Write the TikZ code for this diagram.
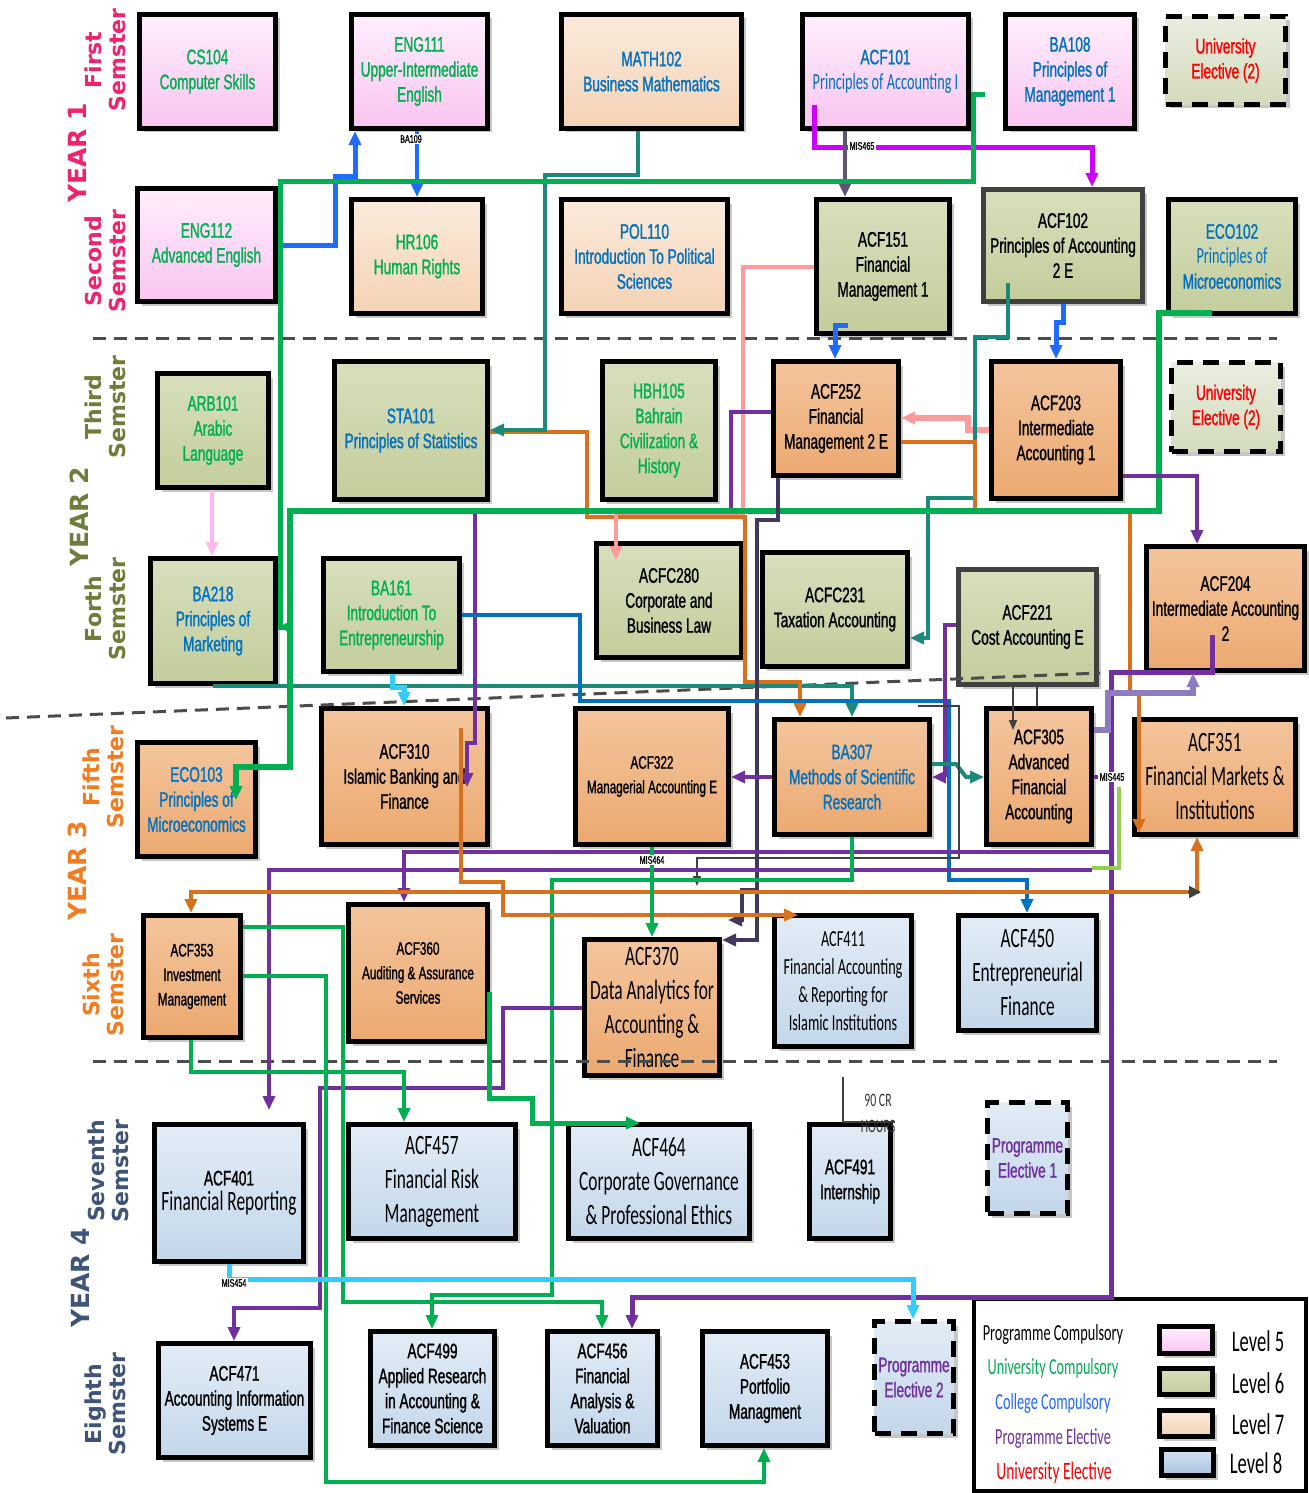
\documentclass[tikz,border=0pt]{standalone}
\usepackage{fontspec}
\usetikzlibrary{arrows.meta,shadows}
\newfontfamily\nf[FakeStretch=0.65,FakeBold=1.2]{Liberation Sans}
\newfontfamily\lf[FakeStretch=0.62]{Carlito}
\newfontfamily\yf{DejaVu Sans}
\newcommand\cfnorm{\nf\fontsize{10.5}{12.5}\selectfont}
\newcommand\cfsmall{\nf\fontsize{9}{12.25}\selectfont}
\newcommand\cflight{\lf\fontsize{14}{17}\selectfont}
\newcommand\cflmid{\lf\fontsize{11.5}{14}\selectfont}
\newcommand\cfsub{\lf\fontsize{11.5}{12.5}\selectfont}
\newcommand\cflbl{\nf\fontsize{5.5}{6}\selectfont}
\newcommand\cfyear{\yf\bfseries\fontsize{12.5}{14}\selectfont}
\newcommand\cfsem{\yf\bfseries\fontsize{11}{12}\selectfont}
\newcommand\cfleg{\lf\fontsize{11.5}{13}\selectfont}
\newcommand\cflegb{\lf\fontsize{12.5}{14}\selectfont}
\newcommand\cflev{\lf\fontsize{15}{17}\selectfont}
\newcommand\cfcr{\lf\fontsize{9.5}{11}\selectfont}
\definecolor{tgreen}{HTML}{00B050}
\definecolor{tblue}{HTML}{0070C0}
\definecolor{tred}{HTML}{FF0000}
\definecolor{tpurple}{HTML}{7030A0}
\definecolor{ypink}{HTML}{F2226E}
\definecolor{yolive}{HTML}{6F7D3A}
\definecolor{yorange}{HTML}{F47B20}
\definecolor{yslate}{HTML}{3E5478}
\definecolor{pinkT}{HTML}{FFEEFD}
\definecolor{pinkB}{HTML}{F9C5F0}
\definecolor{peachT}{HTML}{FBEBDD}
\definecolor{peachB}{HTML}{F4D2B4}
\definecolor{orT}{HTML}{F3C59D}
\definecolor{orB}{HTML}{ECA970}
\definecolor{grT}{HTML}{D7DFBD}
\definecolor{grB}{HTML}{C4CD9B}
\definecolor{blT}{HTML}{E2ECF6}
\definecolor{blB}{HTML}{C3D7EA}
\definecolor{ueT}{HTML}{E9EEE0}
\definecolor{ueB}{HTML}{D3DBBC}
\definecolor{lvT}{HTML}{D5E3F1}
\definecolor{lvB}{HTML}{A8C3E0}
\definecolor{cbright}{HTML}{1F6BFF}
\definecolor{cteal}{HTML}{1B8A7A}
\definecolor{cgreen}{HTML}{00B050}
\definecolor{cpurple}{HTML}{7030A0}
\definecolor{cmagenta}{HTML}{CC00FF}
\definecolor{cpink}{HTML}{FF9B9B}
\definecolor{clpink}{HTML}{FFB8EE}
\definecolor{corange}{HTML}{D9701C}
\definecolor{cnavy}{HTML}{41375F}
\definecolor{cblue}{HTML}{0070C0}
\definecolor{ccyan}{HTML}{33CCFF}
\definecolor{clav}{HTML}{8C7BBE}
\definecolor{clgreen}{HTML}{92D050}
\definecolor{cgray}{HTML}{404040}
\tikzset{
  bx/.style={draw=black, line width=2.5pt, align=center, inner sep=0pt, text=black, font=\cfnorm,
     drop shadow={shadow xshift=2pt, shadow yshift=-2pt, opacity=0.22, fill=black}},
  dbx/.style={bx, dash pattern=on 8pt off 5pt},
  pinkf/.style={top color=pinkT, bottom color=pinkB},
  peachf/.style={top color=peachT, bottom color=peachB},
  orf/.style={top color=orT, bottom color=orB},
  grf/.style={top color=grT, bottom color=grB},
  blf/.style={top color=blT, bottom color=blB},
  uef/.style={top color=ueT, bottom color=ueB},
  lvf/.style={top color=lvT, bottom color=lvB},
  legbox/.style={draw=black, line width=2pt, fill=white, inner sep=0pt},
  ln/.style={line width=2pt},
  tip/.style={-{Triangle[length=7pt,width=6pt]}},
  lbl/.style={fill=white, inner sep=0.6pt, font=\cflbl, text=black},
  sep/.style={draw=black!70, line width=1.5pt, dash pattern=on 6.5pt off 4pt},
  yr/.style={rotate=90, font=\cfyear},
  sem/.style={rotate=90, font=\cfsem, align=center},
}
\newcommand\coursebox[7]{%
  \pgfmathsetmacro\crsw{(#5-#3)*0.5-2.5}%
  \pgfmathsetmacro\crsh{(#6-#4)*0.5-2.5}%
  \node[#2, minimum width=\crsw pt, minimum height=\crsh pt] (#1) at ({(#3+#5)/2},{(#4+#6)/2}) {#7};}
\begin{document}
\begin{tikzpicture}[x=0.5pt,y=-0.5pt]
\useasboundingbox (0,0) rectangle (1308,1493);
\fill[white] (0,0) rectangle (1308,1493);

% ---------- side labels ----------
\node[yr, text=ypink] (y1) at (77,153) {YEAR 1};
\node[sem, text=ypink] (s1) at (105,60) {First\\Semster};
\node[sem, text=ypink] (s2) at (105,261) {Second\\Semster};
\node[yr, text=yolive] (y2) at (79,517) {YEAR 2};
\node[sem, text=yolive] (s3) at (105,407) {Third\\Semster};
\node[sem, text=yolive] (s4) at (105,609) {Forth\\Semster};
\node[yr, text=yorange] (y3) at (77,871) {YEAR 3};
\node[sem, text=yorange] (s5) at (103,777) {Fifth\\Semster};
\node[sem, text=yorange] (s6) at (103,985) {Sixth\\Semster};
\node[yr, text=yslate] (y4) at (80,1278) {YEAR 4};
\node[sem, text=yslate] (s7) at (108,1171) {Seventh\\Semster};
\node[sem, text=yslate] (s8) at (105,1404) {Eighth\\Semster};

% ---------- legend ----------
\coursebox{legend}{legbox}{971}{1296}{1308}{1493}{}

% ---------- course boxes ----------
\coursebox{cs104}{bx,pinkf,text=tgreen}{137}{12}{278}{131}{CS104\\Computer Skills}
\coursebox{eng111}{bx,pinkf,text=tgreen}{349}{12}{490}{131}{ENG111\\Upper-Intermediate\\English}
\coursebox{math102}{bx,peachf,text=tblue}{559}{12}{744}{131}{MATH102\\Business Mathematics}
\coursebox{acf101}{bx,pinkf,text=tblue}{800}{12}{971}{131}{ACF101\\\cfsub Principles of Accounting I}
\coursebox{ba108}{bx,pinkf,text=tblue}{1003}{12}{1137}{131}{BA108\\Principles of\\Management 1}
\coursebox{ue1}{dbx,uef,text=tred}{1163}{14}{1288}{107}{University\\Elective (2)}
\coursebox{eng112}{bx,pinkf,text=tgreen}{135}{186}{278}{304}{ENG112\\Advanced English}
\coursebox{hr106}{bx,peachf,text=tgreen}{349}{197}{485}{316}{HR106\\Human Rights}
\coursebox{pol110}{bx,peachf,text=tblue}{559}{197}{730}{316}{POL110\\Introduction To Political\\Sciences}
\coursebox{acf151}{bx,grf}{814}{197}{952}{336}{ACF151\\Financial\\Management 1}
\coursebox{acf102}{bx,grf,draw=cgray}{981}{187}{1145}{304}{ACF102\\Principles of Accounting\\2 E}
\coursebox{eco102}{bx,grf,text=tblue}{1166}{197}{1298}{316}{ECO102\\\cfsub Principles of\\Microeconomics}
\coursebox{arb101}{bx,grf,text=tgreen}{155}{371}{271}{490}{ARB101\\Arabic\\Language}
\coursebox{sta101}{bx,grf,text=tblue}{332}{359}{490}{502}{STA101\\Principles of Statistics}
\coursebox{hbh105}{bx,grf,text=tgreen}{600}{359}{718}{502}{HBH105\\Bahrain\\Civilization \&\\History}
\coursebox{acf252}{bx,orf}{771}{359}{901}{478}{ACF252\\Financial\\Management 2 E}
\coursebox{acf203}{bx,orf}{989}{359}{1123}{501}{ACF203\\Intermediate\\Accounting 1}
\coursebox{ue2}{dbx,uef,text=tred}{1169}{360}{1283}{454}{University\\Elective (2)}
\coursebox{ba218}{bx,grf,text=tblue}{148}{556}{278}{686}{BA218\\Principles of\\Marketing}
\coursebox{ba161}{bx,grf,text=tgreen}{321}{556}{462}{674}{BA161\\Introduction To\\Entrepreneurship}
\coursebox{acfc280}{bx,grf}{594}{541}{744}{660}{ACFC280\\Corporate and\\Business Law}
\coursebox{acfc231}{bx,grf}{760}{550}{910}{669}{ACFC231\\Taxation Accounting}
\coursebox{acf221}{bx,grf,draw=cgray}{956}{567}{1099}{687}{ACF221\\Cost Accounting E}
\coursebox{acf204}{bx,orf}{1144}{544}{1307}{673}{ACF204\\Intermediate Accounting\\2}
\coursebox{eco103}{bx,orf,text=tblue}{135}{740}{258}{859}{ECO103\\Principles of\\Microeconomics}
\coursebox{acf310}{bx,orf}{319}{706}{490}{847}{ACF310\\Islamic Banking and\\Finance}
\coursebox{acf322}{bx,orf,font=\cfsmall}{573}{706}{731}{847}{ACF322\\Managerial Accounting E}
\coursebox{ba307}{bx,orf,text=tblue}{772}{717}{932}{837}{BA307\\Methods of Scientific\\Research}
\coursebox{acf305}{bx,orf}{984}{706}{1094}{847}{ACF305\\Advanced\\Financial\\Accounting}
\coursebox{acf351}{bx,orf,font=\cflight}{1132}{717}{1298}{837}{ACF351\\Financial Markets \&\\Institutions}
\coursebox{acf353}{bx,orf,font=\cfsmall}{141}{913}{243}{1040}{ACF353\\Investment\\Management}
\coursebox{acf360}{bx,orf,font=\cfsmall}{346}{902}{490}{1044}{ACF360\\Auditing \& Assurance\\Services}
\coursebox{acf370}{bx,orf,font=\cflight}{582}{937}{722}{1078}{ACF370\\Data Analytics for\\Accounting \&\\Finance}
\coursebox{acf411}{bx,blf,font=\cflmid}{772}{913}{914}{1049}{ACF411\\Financial Accounting\\\& Reporting for\\Islamic Institutions}
\coursebox{acf450}{bx,blf,font=\cflight}{956}{913}{1099}{1033}{ACF450\\Entrepreneurial\\Finance}
\coursebox{acf401}{bx,blf}{152}{1122}{306}{1264}{ACF401\\\cflight Financial Reporting}
\coursebox{acf457}{bx,blf,font=\cflight}{346}{1122}{518}{1241}{ACF457\\Financial Risk\\Management}
\coursebox{acf464}{bx,blf,font=\cflight}{566}{1122}{752}{1241}{ACF464\\Corporate Governance\\\& Professional Ethics}
\coursebox{acf491}{bx,blf}{807}{1122}{893}{1241}{ACF491\\Internship}
\coursebox{pe1}{dbx,blf,text=tpurple}{985}{1100}{1070}{1216}{Programme\\Elective 1}
\coursebox{acf471}{bx,blf}{156}{1341}{313}{1460}{ACF471\\Accounting Information\\Systems E}
\coursebox{acf499}{bx,blf}{368}{1329}{497}{1448}{ACF499\\Applied Research\\in Accounting \&\\Finance Science}
\coursebox{acf456}{bx,blf}{545}{1329}{660}{1448}{ACF456\\Financial\\Analysis \&\\Valuation}
\coursebox{acf453}{bx,blf}{700}{1329}{830}{1448}{ACF453\\Portfolio\\Managment}
\coursebox{pe2}{dbx,blf,text=tpurple}{872}{1319}{956}{1436}{Programme\\Elective 2}

% ---------- legend content ----------
\node[font=\cfleg, text=black] (lg1) at (1053,1334) {Programme Compulsory};
\node[font=\cfleg, text=tgreen] (lg2) at (1053,1368) {University Compulsory};
\node[font=\cfleg, text=cbright] (lg3) at (1053,1403) {College Compulsory};
\node[font=\cfleg, text=tpurple] (lg4) at (1053,1438) {Programme Elective};
\node[font=\cflegb, text=tred] (lg5) at (1054,1473) {University Elective};
\coursebox{sw5}{bx,pinkf}{1157}{1324}{1215}{1356}{}
\coursebox{sw6}{bx,grf}{1157}{1366}{1215}{1397}{}
\coursebox{sw7}{bx,peachf}{1157}{1408}{1215}{1439}{}
\coursebox{sw8}{bx,lvf}{1159}{1447}{1216}{1478}{}
\node[font=\cflev] (lv5) at (1258,1341) {Level 5};
\node[font=\cflev] (lv6) at (1258,1383) {Level 6};
\node[font=\cflev] (lv7) at (1258,1424) {Level 7};
\node[font=\cflev] (lv8) at (1256,1463) {Level 8};

% ---------- separators ----------
\draw[sep] (93,338) -- (1277,338);
\draw[sep] (6,718) -- (1100,673);
\draw[sep] (93,1061) -- (1277,1061);

% ---------- named free ends ----------
\coordinate (g1) at (985,95);
\coordinate (g2) at (1212,313);
\coordinate (m1) at (814,105);
\coordinate (b1) at (848,325);
\coordinate (t1) at (1008,283);
\coordinate (p1) at (1212,635);
\coordinate (o1) at (461,728);
\coordinate (e1) at (616,560);
\coordinate (e2) at (467,787);
\coordinate (e3) at (1139,833);
\coordinate (e4) at (236,800);
\coordinate (e5) at (798,915);
\coordinate (e6) at (640,1123);
\coordinate (e7) at (269,1110);

% ---------- connectors ----------
\draw[ln,cteal,tip] (ba218.south) -- (852,0 |- ba218.south) -- (852,0 |- ba307.north);
\draw[ln,corange,tip] (sta101.east |- 0,432) -- (587,432) -- (587,517) -- (745,517) -- (745,682) -- (800,682) -- (800,0 |- ba307.north);
\draw[ln,cteal,tip] (638,0 |- math102.south) -- (638,175) -- (545,175) -- (545,430) -- (sta101.east |- 0,430);
\draw[ln,cpink,tip] (acf151.west |- 0,267) -- (743,267) -- (743,513) -- (616,513) -- (e1);
\draw[cpink,line width=3pt,tip] (acf203.west |- 0,430) -- (968,430) -- (968,418) -- (acf252.east |- 0,418);
\draw[cbright,line width=2.5pt,tip] (b1) -- (835,325) -- (835,0 |- acf252.north);
\draw[cbright,line width=2.5pt,tip] (1063,0 |- acf102.south) -- (1063,322) -- (1056,322) -- (1056,0 |- acf203.north);
\draw[ln,cteal,tip] (t1) -- (1008,337) -- (975,337) -- (975,498) -- (928,498) -- (928,638) -- (acfc231.east |- 0,638);
\draw[cmagenta,line width=2.5pt,tip] (m1) -- (814,147) -- (1092,147) -- (1092,0 |- acf102.north);
\draw[ln,cnavy!85,tip] (845,0 |- acf101.south) -- (845,0 |- acf151.north);
\draw[cbright,line width=2.5pt,tip] (eng112.east |- 0,245) -- (335,245) -- (335,176) -- (355,176) -- (355,0 |- eng111.south);
\draw[ln,cbright,tip] (417,0 |- eng111.south) -- (417,0 |- hr106.north);
\draw[cgreen,line width=2.5pt,tip] (g1) -- (973,95) -- (973,181) -- (280,181) -- (280,627) -- (ba218.east |- 0,627);
\draw[ln,cpurple,tip] (acf252.west |- 0,412) -- (731,412) -- (731,510) -- (475,510) -- (475,743) -- (467,743) -- (e2);
\draw[ln,corange,tip] (acf252.east |- 0,442) -- (975,442) -- (975,512) -- (1130,512) -- (1130,693) -- (1139,693) -- (e3);
\draw[cgreen,line width=3pt,tip] (g2) -- (1159,313) -- (1159,511) -- (290,511) -- (290,767) -- (236,767) -- (e4);
\draw[ln,cnavy,tip] (778,0 |- acf252.south) -- (778,520) -- (757,520) -- (757,940) -- (acf370.east |- 0,940);
\draw[ln,cnavy,tip] (757,890) -- (742,890) -- (742,920) -- (728,920);
\draw[ln,cpurple,tip] (acf203.east |- 0,476) -- (1197,476) -- (1197,0 |- acf204.north);
\draw[ln,clpink,tip] (212,0 |- arb101.south) -- (212,0 |- ba218.north);
\draw[ln,cblue,tip] (ba161.east |- 0,615) -- (580,615) -- (580,701) -- (949,701) -- (949,880) -- (1027,880) -- (1027,0 |- acf450.north);
\draw[ccyan,line width=2.5pt,tip] (392,0 |- ba161.south) -- (392,687) -- (404,687) -- (404,0 |- acf310.north);
\draw[ln,cpurple,tip] (acf221.west |- 0,625) -- (945,625) -- (945,777) -- (ba307.east |- 0,777);
\draw[ln,cpurple,tip] (ba307.west |- 0,777) -- (acf322.east |- 0,777);
\draw[ln,cteal,tip] (ba307.east |- 0,764) -- (956,764) -- (966,777) -- (acf305.west |- 0,777);
\draw[cgray,line width=0.8pt,-{Triangle[length=5pt,width=4pt]}] (1013,0 |- acf221.south) -- (1013,730);
\draw[cgray,line width=0.8pt] (1037,0 |- acf221.south) -- (1037,0 |- acf305.north);
\draw[cgray,line width=0.8pt,-{Triangle[length=5pt,width=4pt]}] (918,706) -- (959,706) -- (959,858) -- (697,858) -- (697,886);
\draw[cpurple,line width=2.5pt,tip] (p1) -- (1212,672) -- (1111,672) -- (1111,1297) -- (632,1297) -- (632,0 |- acf456.north);
\draw[ln,cpurple] (acf305.east |- 0,777) -- (1111,777);
\draw[clav,line width=3pt,tip] (acf305.east |- 0,730) -- (1108,730) -- (1108,693) -- (1193,693) -- (1193,0 |- acf204.south);
\draw[ln,cpurple,tip] (1111,852) -- (404,852) -- (404,0 |- acf360.north);
\draw[ln,cpurple,tip] (1092,870) -- (269,870) -- (e7);
\draw[ln,clgreen] (1119,787) -- (1119,868) -- (1092,868);
\draw[ln,cgreen,tip] (852,0 |- ba307.south) -- (852,880) -- (552,880) -- (552,1295) -- (432,1295) -- (432,0 |- acf499.north);
\draw[ln,corange,{Triangle[length=7pt,width=6pt]}-{Triangle[length=7pt,width=6pt]}] (191,0 |- acf353.north) -- (191,892) -- (1197,892) -- (1197,0 |- acf351.south);
\draw[cgray,line width=1pt,-{Triangle[length=6pt,width=6pt]}] (1188,892) -- (1201,892);
\draw[ln,corange,tip] (o1) -- (461,882) -- (503,882) -- (503,915) -- (e5);
\draw[ln,cgreen,tip] (652,0 |- acf322.south) -- (652,0 |- acf370.north);
\draw[ln,cpurple,tip] (acf370.west |- 0,1008) -- (503,1008) -- (503,1088) -- (320,1088) -- (320,1308) -- (234,1308) -- (234,0 |- acf471.north);
\draw[ln,cgreen,tip] (acf353.east |- 0,976) -- (326,976) -- (326,1482) -- (764,1482) -- (764,0 |- acf453.south);
\draw[ln,cgreen,tip] (acf353.east |- 0,927) -- (343,927) -- (343,1302) -- (602,1302) -- (602,0 |- acf456.north);
\draw[ln,cgreen,tip] (191,0 |- acf353.south) -- (191,1072) -- (404,1072) -- (404,0 |- acf457.north);
\draw[cgreen,line width=2.5pt,tip] (489,992) -- (489,1098) -- (532,1098) -- (532,1123) -- (e6);
\draw[ccyan,line width=2.5pt,tip] (229,0 |- acf401.south) -- (229,1279) -- (913,1279) -- (913,0 |- pe2.north);
\draw[cgray,line width=0.6pt] (843,1077) -- (843,1122) -- (895,1122);

% ---------- small labels ----------
\node[lbl] (ba109) at (411,139) {BA109};
\node[lbl] (mis465) at (862,146) {MIS465};
\node[lbl] (mis464) at (652,860) {MIS464};
\node[lbl] (mis445) at (1112,777) {MIS445};
\node[lbl] (mis454) at (234,1283) {MIS454};
\node[font=\cfcr, text=black!80] (cr1) at (878,1100) {90 CR};
\node[font=\cfcr, text=black!80] (cr2) at (878,1126) {HOURS};
\end{tikzpicture}
\end{document}
